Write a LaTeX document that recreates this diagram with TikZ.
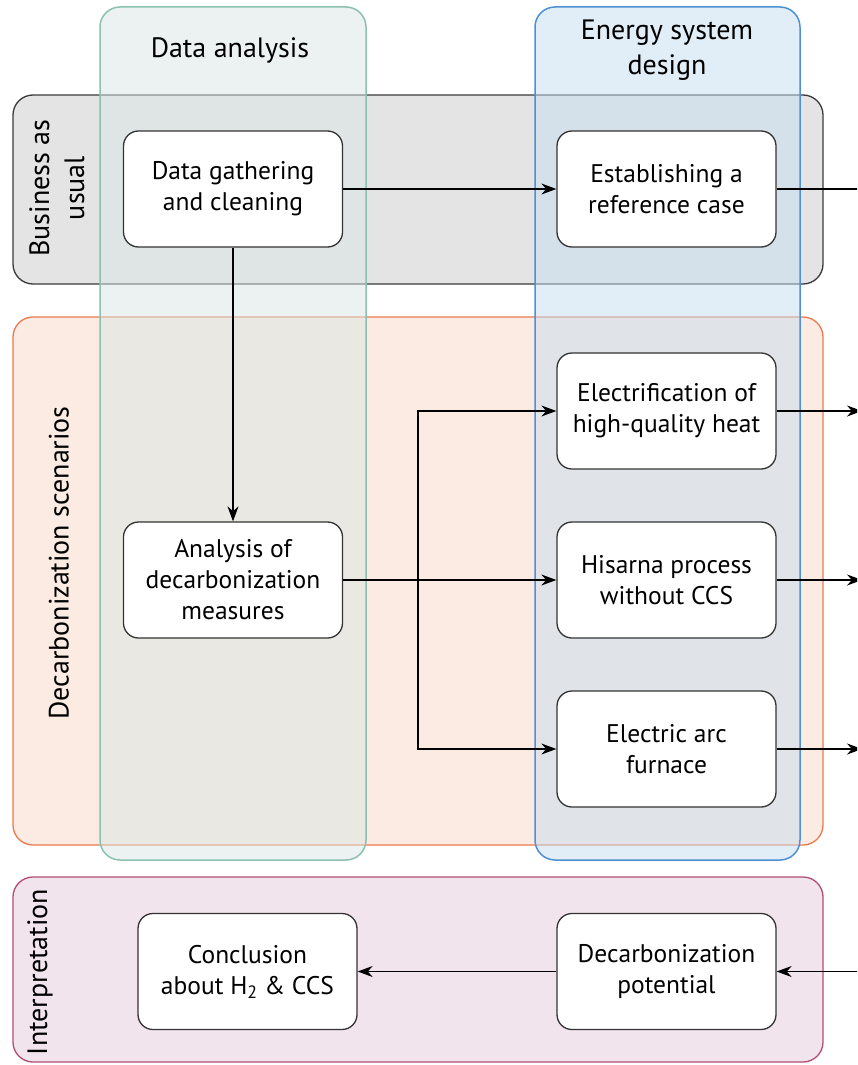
\documentclass[tikz,border=0pt]{standalone}
\usepackage{fontspec}
\setmainfont{PT Sans}
\usetikzlibrary{arrows.meta}
\definecolor{grayfill}{HTML}{E4E4E4}
\definecolor{grayline}{HTML}{3A3A3A}
\definecolor{orfill}{HTML}{FBEBE2}
\definecolor{orline}{HTML}{EA7A50}
\definecolor{pkfill}{HTML}{F2E4EC}
\definecolor{pkline}{HTML}{B34D74}
\definecolor{tealfill}{HTML}{DBE7E5}
\definecolor{tealline}{HTML}{8CC1B0}
\definecolor{bluefill}{HTML}{C7DFF1}
\definecolor{blueline}{HTML}{4F8FD4}
\definecolor{boxline}{HTML}{333333}
\begin{document}
\begin{tikzpicture}[x=1pt,y=-1pt,
  txt/.style={font=\fontsize{25.5}{31}\selectfont},
  htxt/.style={font=\fontsize{28}{35}\selectfont},
  box/.style={txt, draw=boxline, fill=white, rounded corners=15pt, line width=1.3pt,
    minimum width=219pt, minimum height=116pt, align=center, inner sep=0pt},
  rowbox/.style={rounded corners=20pt, line width=1.3pt},
  colbox/.style={rounded corners=20pt, line width=1.5pt, fill opacity=0.5},
  arr/.style={-{Stealth[length=15pt,width=11pt]}, line width=1.2pt, draw=black},
  lnk/.style={line width=1.2pt, draw=black},
  lbl/.style={htxt, align=center}
]
\clip (0,0) rectangle (857,1065);
\fill[white] (0,0) rectangle (857,1065);
% rows
\draw[rowbox, draw=grayline, fill=grayfill] (13,95) rectangle (823,284);
\draw[rowbox, draw=orline, fill=orfill] (13,317) rectangle (823,845);
\draw[rowbox, draw=pkline, fill=pkfill] (13,877) rectangle (823,1062);
% columns
\draw[colbox, draw=tealline, fill=tealfill] (100,7) rectangle (366,860);
\draw[colbox, draw=blueline, fill=bluefill] (535,7) rectangle (800,860);
% labels
\node[lbl] (hda) at (230,50) {Data analysis};
\node[lbl] (hes) at (667,50) {Energy system\\design};
\node[lbl, rotate=90] (rbau) at (57,188) {Business as\\usual};
\node[lbl, rotate=90] (rdec) at (59,563) {Decarbonization scenarios};
\node[lbl, rotate=90] (rint) at (40,972) {Interpretation};
% boxes
\node[box] (dg) at (233,189) {Data gathering\\and cleaning};
\node[box] (er) at (666.5,189) {Establishing a\\reference case};
\node[box] (ef) at (666.5,411) {Electrification of\\high-quality heat};
\node[box] (hp) at (666.5,580) {Hisarna process\\without CCS};
\node[box] (ea) at (666.5,749) {Electric arc\\furnace};
\node[box] (an) at (233,580) {Analysis of\\decarbonization\\measures};
\node[box] (cc) at (247.5,971.5) {Conclusion\\about H\textsubscript{2} \& CCS};
\node[box] (dp) at (666.5,971.5) {Decarbonization\\potential};
% free ends
\coordinate (o1) at (875,189);
\coordinate (o2) at (862,411);
\coordinate (o3) at (862,580);
\coordinate (o4) at (862,749);
\coordinate (i1) at (875,971.5);
\coordinate (br) at (418,580);
% connectors
\draw[arr] (dg.east) -- (er.west);
\draw[lnk] (er.east) -- (o1);
\draw[arr] (dg.south) -- (an.north);
\draw[arr] (an.east) -- (hp.west);
\draw[arr] (br) |- (ef.west);
\draw[arr] (br) |- (ea.west);
\draw[arr] (ef.east) -- (o2);
\draw[arr] (hp.east) -- (o3);
\draw[arr] (ea.east) -- (o4);
\draw[arr] (i1) -- (dp.east);
\draw[arr] (dp.west) -- (cc.east);
\end{tikzpicture}
\end{document}
